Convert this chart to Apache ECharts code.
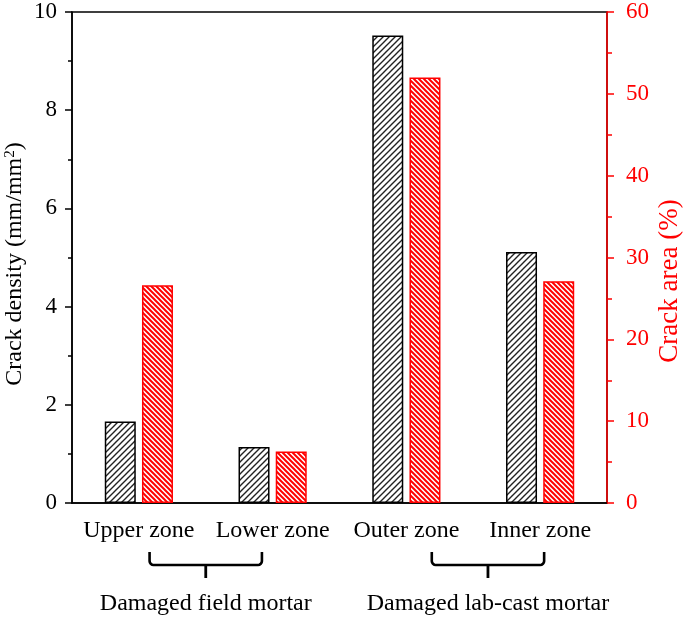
<!DOCTYPE html>
<html><head><meta charset="utf-8">
<script src="https://cdn.jsdelivr.net/npm/echarts@6/dist/echarts.min.js"></script>
<style>html,body{margin:0;padding:0;background:#fff}#c{width:685px;height:620px}</style>
</head><body><div id="c"></div>
<script>
// ---- data ----
const categories = ['Upper zone', 'Lower zone', 'Outer zone', 'Inner zone'];
const crackDensity = [1.66, 1.14, 9.52, 5.11];   // mm/mm2, left axis
const crackArea = [26.6, 6.3, 52.0, 27.1];       // %, right axis
const groupLabels = ['Damaged field mortar', 'Damaged lab-cast mortar'];
const leftAxisTitle = 'Crack density (mm/mm{sup|2})';
const rightAxisTitle = 'Crack area (%)';

// ---- layout (annotation positions, in category-index units) ----
const groupCenters = [0.5, 2.61];
const braceHalfWidth = 0.42;

const FONT = '"Liberation Serif", "Times New Roman", serif';
const RED = '#ff0000';

function hatch(color, size, lw, dir) {
  const c = document.createElement('canvas');
  c.width = c.height = size;
  const g = c.getContext('2d');
  g.fillStyle = '#fff';
  g.fillRect(0, 0, size, size);
  g.strokeStyle = color;
  g.lineWidth = lw;
  g.beginPath();
  if (dir === '/') {
    for (let k = 0; k <= 2; k++) { g.moveTo(-2, k * size + 2); g.lineTo(k * size + 2, -2); }
  } else {
    for (let k = -1; k <= 1; k++) { g.moveTo(k * size - 2, -2); g.lineTo(k * size + size + 2, size + 2); }
  }
  g.stroke();
  return c;
}

const chart = echarts.init(document.getElementById('c'), null, { renderer: 'canvas' });
const option = {
  animation: false,
  backgroundColor: '#fff',
  grid: { left: 72, right: 78, top: 12, bottom: 117, show: true, borderColor: '#000', borderWidth: 1.5, backgroundColor: 'transparent' },
  xAxis: {
    type: 'category', data: categories,
    axisLine: { lineStyle: { color: '#000', width: 1.5 } },
    axisTick: { show: false },
    axisLabel: { interval: 0, fontFamily: FONT, fontSize: 24, color: '#000', margin: 16 }
  },
  yAxis: [
    {
      type: 'value', min: 0, max: 10, interval: 2, position: 'left',
      axisLine: { show: true, lineStyle: { color: '#000', width: 1.5 } },
      axisTick: { show: true, length: 7, lineStyle: { color: '#000', width: 1.5 } },
      minorTick: { show: true, splitNumber: 2, length: 4, lineStyle: { color: '#000', width: 1.5 } },
      splitLine: { show: false },
      axisLabel: { fontFamily: FONT, fontSize: 23, color: '#000', margin: 15 }
    },
    {
      type: 'value', min: 0, max: 60, interval: 10, position: 'right',
      axisLine: { show: true, lineStyle: { color: RED, width: 1.5 } },
      axisTick: { show: true, length: 7, lineStyle: { color: RED, width: 1.5 } },
      minorTick: { show: true, splitNumber: 2, length: 5, lineStyle: { color: RED, width: 1.5 } },
      splitLine: { show: false },
      axisLabel: { fontFamily: FONT, fontSize: 23, color: RED, margin: 19 }
    }
  ],
  series: [
    {
      type: 'bar', yAxisIndex: 0, data: crackDensity, barWidth: 31, barGap: '20%',
      itemStyle: { color: { image: hatch('#222', 6, 1.4, '/'), repeat: 'repeat' }, borderColor: '#000', borderWidth: 1.5 }
    },
    {
      type: 'bar', yAxisIndex: 1, data: crackArea, barWidth: 31,
      itemStyle: { color: { image: hatch(RED, 5, 2, '\\'), repeat: 'repeat' }, borderColor: RED, borderWidth: 1.5 }
    }
  ]
};
chart.setOption(option);

// ---- annotations: axis titles, braces and group labels ----
const c0 = chart.convertToPixel({ xAxisIndex: 0 }, categories[0]);
const c1 = chart.convertToPixel({ xAxisIndex: 0 }, categories[1]);
const step = c1 - c0;
const px = i => c0 + i * step;

const graphics = [];
graphics.push({
  type: 'text', x: 15, y: 264, rotation: Math.PI / 2,
  style: {
    text: leftAxisTitle, textAlign: 'center', textVerticalAlign: 'middle', align: 'center', verticalAlign: 'middle',
    fontFamily: FONT, fontSize: 24, fill: '#000',
    rich: { sup: { fontFamily: FONT, fontSize: 15, verticalAlign: 'top', fill: '#000' } }
  }
});
graphics.push({
  type: 'text', x: 670, y: 281, rotation: Math.PI / 2,
  style: {
    text: rightAxisTitle, textAlign: 'center', textVerticalAlign: 'middle', align: 'center', verticalAlign: 'middle',
    fontFamily: FONT, fontSize: 27, fill: RED
  }
});
const yTop = 552, yBar = 565, yTip = 578, r = 4;
function corner(cx, cy, a0, a1) {
  const pts = [];
  for (let k = 0; k <= 4; k++) {
    const a = a0 + (a1 - a0) * k / 4;
    pts.push([cx + r * Math.cos(a), cy + r * Math.sin(a)]);
  }
  return pts;
}
groupCenters.forEach((gc, i) => {
  const C = px(gc), L = px(gc - braceHalfWidth), R = px(gc + braceHalfWidth);
  const pts = [[L, yTop]]
    .concat(corner(L + r, yBar - r, Math.PI, Math.PI / 2))
    .concat(corner(R - r, yBar - r, Math.PI / 2, 0))
    .concat([[R, yTop]]);
  graphics.push({ type: 'polyline', shape: { points: pts }, style: { fill: null, stroke: '#000', lineWidth: 2.6 } });
  graphics.push({ type: 'line', shape: { x1: C, y1: yBar, x2: C, y2: yTip }, style: { stroke: '#000', lineWidth: 2.8 } });
  graphics.push({
    type: 'text', x: C, y: 604,
    style: { text: groupLabels[i], textAlign: 'center', textVerticalAlign: 'middle', align: 'center', verticalAlign: 'middle', fontFamily: FONT, fontSize: 24, fill: '#000' }
  });
});
chart.setOption({ graphic: graphics });
</script>
</body></html>
